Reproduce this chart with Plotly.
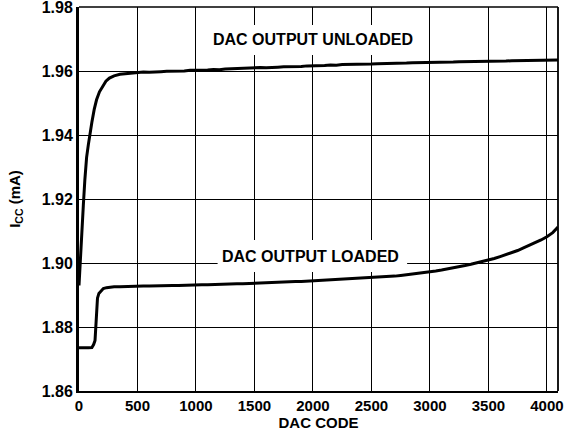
import plotly.graph_objects as go

# ---- data ----
unloaded_code = [0, 8, 16, 25, 37, 50, 65, 80, 95, 110, 130, 150, 175, 200, 230, 260, 300, 350, 400, 450,
                 500, 550, 600, 650, 700, 750, 800, 850, 900, 950, 1000, 1050, 1100, 1150, 1200, 1250, 1300,
                 1350, 1400, 1450, 1500, 1550, 1600, 1650, 1700, 1750, 1800, 1850, 1900, 1950, 2000, 2050,
                 2100, 2150, 2200, 2250, 2300, 2350, 2400, 2450, 2500, 2550, 2600, 2650, 2700, 2750, 2800,
                 2850, 2900, 2950, 3000, 3050, 3100, 3150, 3200, 3250, 3300, 3350, 3400, 3450, 3500, 3550,
                 3600, 3650, 3700, 3750, 3800, 3850, 3900, 3950, 4000, 4050, 4095]
unloaded_icc = [1.8930, 1.8990, 1.9060, 1.9120, 1.9180, 1.9260, 1.9330, 1.9370, 1.9410, 1.9440, 1.9480,
                1.9510, 1.9535, 1.9550, 1.9568, 1.9578, 1.9585, 1.9590, 1.9592, 1.9594,
                1.9595, 1.9597, 1.9596, 1.9598, 1.9598, 1.9599, 1.9599, 1.9601, 1.9600, 1.9602, 1.9602,
                1.9603, 1.9603, 1.9605, 1.9604, 1.9606, 1.9607, 1.9607, 1.9608, 1.9609, 1.9609, 1.9611,
                1.9610, 1.9612, 1.9612, 1.9613, 1.9613, 1.9615, 1.9614, 1.9616, 1.9616, 1.9617, 1.9617,
                1.9619, 1.9618, 1.9620, 1.9620, 1.9621, 1.9621, 1.9622, 1.9622, 1.9623, 1.9623, 1.9624,
                1.9624, 1.9625, 1.9625, 1.9626, 1.9626, 1.9627, 1.9627, 1.9627, 1.9628, 1.9628, 1.9628,
                1.9629, 1.9629, 1.9630, 1.9629, 1.9630, 1.9630, 1.9631, 1.9631, 1.9631, 1.9632, 1.9632,
                1.9632, 1.9633, 1.9632, 1.9633, 1.9633, 1.9634, 1.9634]

loaded_code = [0, 40, 80, 110, 125, 137, 145, 152, 158, 170, 185, 208, 235, 264, 300, 350, 400, 450,
               500, 550, 600, 650, 700, 750, 800, 850, 900, 950, 1000, 1050, 1100, 1150, 1200, 1250, 1300,
               1350, 1400, 1450, 1500, 1550, 1600, 1650, 1700, 1750, 1800, 1850, 1900, 1950, 2000, 2050,
               2100, 2150, 2200, 2250, 2300, 2350, 2400, 2450, 2500, 2550, 2600, 2650, 2700, 2750, 2800,
               2850, 2900, 2950, 3000, 3050, 3100, 3150, 3200, 3250, 3300, 3350, 3400, 3450, 3500, 3550,
               3600, 3650, 3700, 3750, 3800, 3850, 3900, 3950, 4000, 4050, 4095]
loaded_icc = [1.8735, 1.8734, 1.8735, 1.8736, 1.8745, 1.8758, 1.8800, 1.8860, 1.8890, 1.8905, 1.8912,
              1.8920, 1.8923, 1.8925, 1.8926, 1.8926, 1.8927, 1.8927,
              1.8928, 1.8928, 1.8928, 1.8929, 1.8929, 1.8930, 1.8930, 1.8930, 1.8931, 1.8931, 1.8931,
              1.8932, 1.8932, 1.8933, 1.8933, 1.8934, 1.8934, 1.8935, 1.8935, 1.8936, 1.8937, 1.8937,
              1.8938, 1.8939, 1.8939, 1.8940, 1.8941, 1.8942, 1.8942, 1.8943, 1.8944, 1.8945, 1.8946,
              1.8947, 1.8947, 1.8948, 1.8949, 1.8950, 1.8951, 1.8952, 1.8953, 1.8955, 1.8956, 1.8958,
              1.8959, 1.8961, 1.8963, 1.8965, 1.8967, 1.8969, 1.8972, 1.8975, 1.8978, 1.8981, 1.8984,
              1.8988, 1.8992, 1.8996, 1.9000, 1.9004, 1.9009, 1.9014, 1.9020, 1.9026, 1.9032, 1.9039,
              1.9047, 1.9055, 1.9063, 1.9072, 1.9082, 1.9095, 1.9112]

x_ticks = [0, 500, 1000, 1500, 2000, 2500, 3000, 3500, 4000]
y_ticks = [1.86, 1.88, 1.90, 1.92, 1.94, 1.96, 1.98]
x_tick_labels = [str(v) for v in x_ticks]
y_tick_labels = ["%.2f" % v for v in y_ticks]

FONT = "Liberation Sans, Arial, sans-serif"

fig = go.Figure()
for xs, ys in [(unloaded_code, unloaded_icc), (loaded_code, loaded_icc)]:
    fig.add_trace(go.Scatter(x=xs, y=ys, mode="lines",
                             line=dict(color="black", width=3), showlegend=False,
                             hoverinfo="skip"))

# white boxes that interrupt the grid behind the labels
fig.add_shape(type="rect", xref="x", yref="y", x0=1108, x1=2916, y0=1.9650, y1=1.9744,
              fillcolor="white", line_width=0, layer="between")
fig.add_shape(type="rect", xref="x", yref="y", x0=1185, x1=2805, y0=1.8972, y1=1.9072,
              fillcolor="white", line_width=0, layer="between")
# top & right border
fig.add_shape(type="line", xref="paper", yref="paper", x0=0, x1=1, y0=1, y1=1,
              line=dict(color="black", width=1.5))
fig.add_shape(type="line", xref="paper", yref="paper", x0=1, x1=1, y0=0, y1=1,
              line=dict(color="black", width=1.8))

fig.add_annotation(x=1999, y=1.9697, xref="x", yref="y", text="DAC OUTPUT UNLOADED",
                   showarrow=False, font=dict(family=FONT, size=16, color="black", weight="bold"))
fig.add_annotation(x=1978, y=1.9021, xref="x", yref="y", text="DAC OUTPUT LOADED",
                   showarrow=False, font=dict(family=FONT, size=16, color="black", weight="bold"))

fig.update_layout(
    width=572, height=443,
    margin=dict(l=79, r=14, t=7, b=52, autoexpand=False),
    paper_bgcolor="white", plot_bgcolor="white",
    font=dict(family=FONT, color="black", size=15, weight="bold"),
    xaxis=dict(range=[0, 4095], tickvals=x_ticks, ticktext=x_tick_labels, automargin=False,
               ticklabeloverflow="allow",
               showgrid=True, gridcolor="black", gridwidth=1.3,
               showline=True, linecolor="black", linewidth=2.2, zeroline=False,
               ticks="", tickfont=dict(family=FONT, size=15, weight="bold"),
               title=dict(text="DAC CODE", font=dict(family=FONT, size=15, weight="bold"), standoff=2)),
    yaxis=dict(range=[1.86, 1.98], tickvals=y_ticks, ticktext=y_tick_labels, automargin=False,
               ticklabeloverflow="allow",
               showgrid=True, gridcolor="black", gridwidth=1.3,
               showline=True, linecolor="black", linewidth=3, zeroline=False,
               ticks="", tickfont=dict(family=FONT, size=16, weight="bold"),
               title=dict(text="I<sub>CC</sub> (mA)", font=dict(family=FONT, size=15, weight="bold"), standoff=18)),
)

fig.write_html("out.html", config={"displayModeBar": False},
               post_script="document.body.style.margin='0px';")
